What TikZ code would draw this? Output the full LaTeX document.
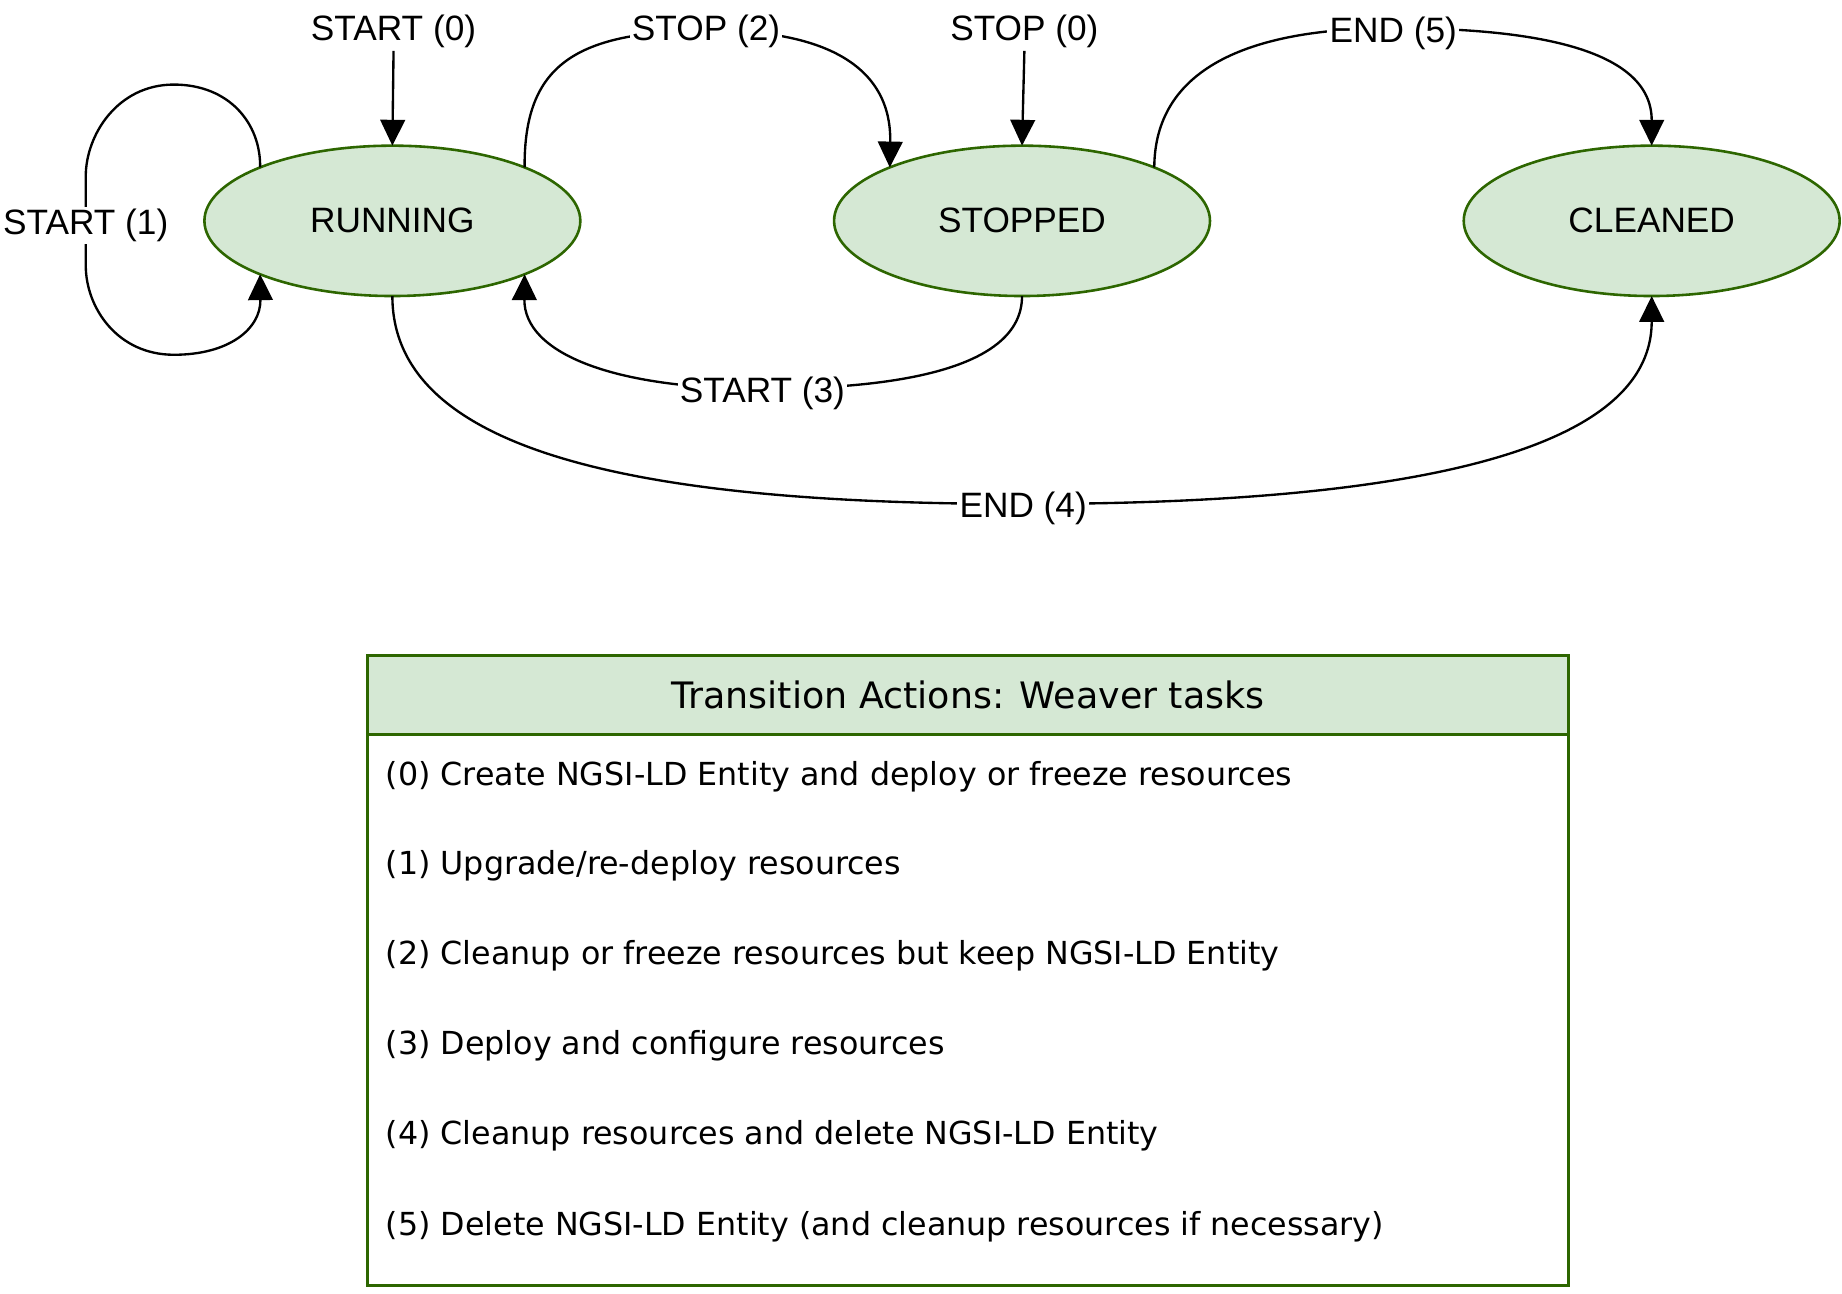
\documentclass[tikz,border=0pt]{standalone}
\usepackage{fontspec}
\setmainfont{Liberation Sans}
\newfontfamily\boxfont{DejaVu Sans}
\usetikzlibrary{arrows.meta,shapes.geometric}
\definecolor{stategreen}{HTML}{D5E8D4}
\definecolor{darkgreen}{HTML}{2D6600}
\begin{document}
\begin{tikzpicture}[x=0.5pt,y=-0.5pt,
  state/.style={ellipse, draw=darkgreen, fill=stategreen, line width=1.1pt,
    minimum width=160pt, minimum height=64pt, inner sep=0pt, outer sep=0pt,
    font=\fontsize{15}{18}\selectfont},
  lbl/.style={fill=white, inner sep=1pt, yshift=-2pt, font=\fontsize{15}{18}\selectfont},
  toplbl/.style={inner sep=1pt, font=\fontsize{15}{18}\selectfont},
  conn/.style={line width=1pt, -{Triangle[length=11pt,width=10.5pt]}},
  tablebox/.style={draw=darkgreen, line width=1.25pt, minimum width=511pt,
    anchor=north west, inner sep=0pt, outer sep=0pt},
  item/.style={anchor=west, inner sep=0pt, font=\boxfont\fontsize{13.5}{16}\selectfont}
]
\useasboundingbox (0,0) rectangle (1568,1100.7);

% states
\node[state] (running) at (334,188) {RUNNING};
\node[state] (stopped) at (870,188) {STOPPED};
\node[state] (cleaned) at (1406,188) {CLEANED};

% initial inputs
\node[toplbl] (s0) at (335,27) {START (0)};
\node[toplbl] (p0) at (872,27) {STOP (0)};
\draw[conn] (s0.south) -- (running.north);
\draw[conn] (p0.south) -- (stopped.north);

% START (1) self loop
\draw[conn] (running.158) .. controls (222,105) and (195,72) .. (148,72)
  .. controls (100,72) and (73,115) .. (73,150) -- (73,188) node[lbl] (l1) {START (1)}
  -- (73,226) .. controls (73,262) and (100,302) .. (148,302)
  .. controls (195,302) and (222,280) .. (running.-158);

% STOP (2)
\draw[conn] (running.22) .. controls (446,55) and (490,27) .. (601,26) node[lbl, yshift=1.5pt] (l2) {STOP (2)}
  .. controls (700,25) and (759,55) .. (stopped.158);

% START (3)
\draw[conn] (stopped.south) .. controls (870,315) and (760,331) .. (649,331) node[lbl] (l3) {START (3)}
  .. controls (520,331) and (446,300) .. (running.-22);

% END (4)
\draw[conn] (running.south) .. controls (334,390) and (560,429) .. (871,429) node[lbl] (l4) {END (4)}
  .. controls (1180,429) and (1406,390) .. (cleaned.south);

% END (5)
\draw[conn] (stopped.22) .. controls (983,60) and (1060,24) .. (1186,24) node[lbl] (l5) {END (5)}
  .. controls (1300,24) and (1406,40) .. (cleaned.north);

% table
\node[tablebox, minimum height=234.5pt] (body) at (313,625) {};
\node[tablebox, fill=stategreen, minimum height=33.5pt,
  font=\boxfont\fontsize{15.5}{18}\selectfont] (hdr) at (313,558) {Transition Actions: Weaver tasks};
\node[item] (i0) at (328,661) {(0) Create NGSI-LD Entity and deploy or freeze resources};
\node[item] (i1) at (328,737) {(1) Upgrade/re-deploy resources};
\node[item] (i2) at (328,814) {(2) Cleanup or freeze resources but keep NGSI-LD Entity};
\node[item] (i3) at (328,890) {(3) Deploy and configure resources};
\node[item] (i4) at (328,967) {(4) Cleanup resources and delete NGSI-LD Entity};
\node[item] (i5) at (328,1044) {(5) Delete NGSI-LD Entity (and cleanup resources if necessary)};
\end{tikzpicture}
\end{document}
